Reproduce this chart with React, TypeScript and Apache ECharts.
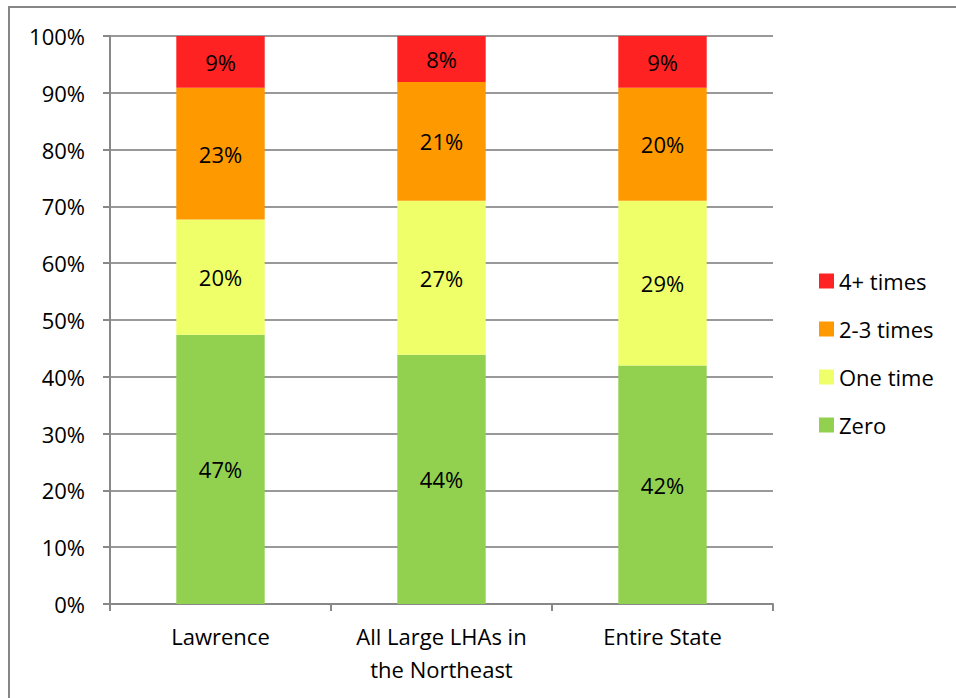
import React, { useEffect, useRef } from "react";
import * as echarts from "echarts";

// Share of respondents by number of times, per area (percent)
const categories = ["Lawrence", "All Large LHAs in\nthe Northeast", "Entire State"];
const zero = [47.4, 43.9, 42.0];
const oneTime = [20.3, 27.1, 29.0];
const twoThree = [23.2, 20.9, 19.9];
const fourPlus = [9.1, 8.1, 9.1];

const seriesNames = ["Zero", "One time", "2-3 times", "4+ times"];
const seriesData = [zero, oneTime, twoThree, fourPlus];
const seriesColors = ["#92D050", "#EFFF6A", "#FF9900", "#FF2222"];

const FONT = "'Open Sans', sans-serif";

export default function App() {
  const ref = useRef<HTMLDivElement>(null);

  useEffect(() => {
    if (!ref.current) return;
    const chart = echarts.init(ref.current, undefined, { renderer: "svg" });
    chart.setOption({
      animation: false,
      backgroundColor: "#ffffff",
      textStyle: { fontFamily: FONT },
      graphic: [
        {
          type: "rect",
          shape: { x: 9, y: 7, width: 1200, height: 1000 },
          style: { fill: "none", stroke: "#868686", lineWidth: 2 },
          silent: true,
          z: 100,
        },
      ],
      grid: { left: 110, right: 183, top: 36, bottom: 94, containLabel: false },
      legend: {
        orient: "vertical",
        left: 814,
        top: 265,
        itemWidth: 15,
        itemHeight: 15,
        itemGap: 26,
        icon: "rect",
        data: [...seriesNames].reverse(),
        textStyle: { fontFamily: FONT, fontSize: 22, color: "#000" },
      },
      xAxis: {
        type: "category",
        data: categories,
        axisLine: { lineStyle: { color: "#888888", width: 2 } },
        axisTick: { show: true, length: 7, alignWithLabel: false, lineStyle: { color: "#888888", width: 2 } },
        axisLabel: {
          fontFamily: FONT,
          fontSize: 22,
          color: "#000",
          margin: 15,
          lineHeight: 33,
          interval: 0,
        },
      },
      yAxis: {
        type: "value",
        min: 0,
        max: 100,
        interval: 10,
        axisLine: { show: true, lineStyle: { color: "#888888", width: 2 } },
        axisTick: { show: true, length: 7, lineStyle: { color: "#888888", width: 2 } },
        splitLine: { show: true, lineStyle: { color: "#999999", width: 2 } },
        axisLabel: {
          fontFamily: FONT,
          fontSize: 22,
          color: "#000",
          margin: 25,
          formatter: (v: number) => `${v}%`,
        },
      },
      series: seriesNames.map((name, i) => ({
        name,
        type: "bar",
        stack: "total",
        barWidth: "40%",
        data: seriesData[i],
        itemStyle: { color: seriesColors[i] },
        label: {
          show: true,
          position: "inside",
          fontFamily: FONT,
          fontSize: 22,
          color: "#000",
          formatter: (p: any) => `${Math.round(p.value)}%`,
        },
      })),
    });
    return () => chart.dispose();
  }, []);

  return (
    <div
      ref={ref}
      style={{ position: "fixed", left: 0, top: 0, width: 956, height: 698 }}
    />
  );
}
